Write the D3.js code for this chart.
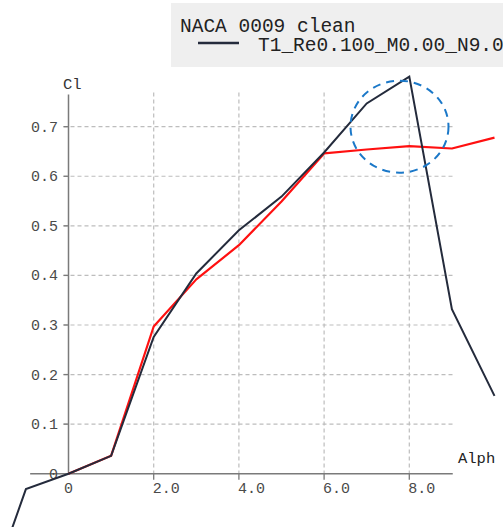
<!DOCTYPE html>
<html>
<head>
<meta charset="utf-8">
<script src="https://cdn.jsdelivr.net/npm/d3@7"></script>
<style>
  html, body { margin: 0; padding: 0; background: #fff; }
  svg { display: block; }
  text { font-family: "Liberation Mono", "DejaVu Sans Mono", monospace; }
</style>
</head>
<body>
<div id="chart"></div>
<script>
// polar data
const alphaBlack = [-2, -1, 0, 1, 2, 3, 4, 5, 6, 7, 8, 9, 10];
const clBlack = [-0.275, -0.031, 0, 0.036, 0.276, 0.404, 0.491, 0.559, 0.648, 0.747, 0.801, 0.332, 0.157];

const alphaRed = [0, 1, 2, 3, 4, 5, 6, 7, 8, 9, 10];
const clRed = [0, 0.036, 0.297, 0.392, 0.461, 0.549, 0.646, 0.654, 0.661, 0.656, 0.678];

const xTicks = [0, 2, 4, 6, 8];
const xTickLabels = ["0", "2.0", "4.0", "6.0", "8.0"];
const yTicks = [0, 0.1, 0.2, 0.3, 0.4, 0.5, 0.6, 0.7];
const yTickLabels = ["0", "0.1", "0.2", "0.3", "0.4", "0.5", "0.6", "0.7"];

const legendTitle = "NACA 0009 clean";
const legendSeries = "T1_Re0.100_M0.00_N9.0";

// highlighted region (alpha, cl)
const highlight = { alpha: 7.77, cl: 0.70 };

const width = 503, height = 527;

const x = d3.scaleLinear().domain([0, 8]).range([68.5, 409.3]);
const y = d3.scaleLinear().domain([0, 0.7]).range([473.7, 126.7]);

const svg = d3.select("#chart")
  .append("svg")
  .attr("width", width)
  .attr("height", height);

const axisColor = "#7a7a7a";
const gridColor = "#bdbdbd";

// grid
svg.append("g")
  .selectAll("line")
  .data(yTicks.filter(d => d > 0))
  .join("line")
  .attr("x1", x(0) - 5)
  .attr("x2", x(9.02))
  .attr("y1", d => y(d))
  .attr("y2", d => y(d))
  .attr("stroke", gridColor)
  .attr("stroke-width", 1.2)
  .attr("stroke-dasharray", "4,3");

svg.append("g")
  .selectAll("line")
  .data(xTicks.filter(d => d > 0))
  .join("line")
  .attr("x1", d => x(d))
  .attr("x2", d => x(d))
  .attr("y1", y(0.769))
  .attr("y2", y(0))
  .attr("stroke", gridColor)
  .attr("stroke-width", 1.2)
  .attr("stroke-dasharray", "4,3");

// axes
svg.append("line")
  .attr("x1", x(-0.9)).attr("x2", x(9.02))
  .attr("y1", y(0)).attr("y2", y(0))
  .attr("stroke", axisColor).attr("stroke-width", 1.5);

svg.append("line")
  .attr("x1", x(0)).attr("x2", x(0))
  .attr("y1", y(0.765)).attr("y2", y(0))
  .attr("stroke", axisColor).attr("stroke-width", 1.5);

// tick marks
svg.append("g")
  .selectAll("line")
  .data(xTicks.filter(d => d > 0))
  .join("line")
  .attr("x1", d => x(d)).attr("x2", d => x(d))
  .attr("y1", y(0)).attr("y2", y(0) + 6)
  .attr("stroke", axisColor).attr("stroke-width", 1.3);

svg.append("g")
  .selectAll("line")
  .data(yTicks.filter(d => d > 0))
  .join("line")
  .attr("x1", x(0) - 5).attr("x2", x(0))
  .attr("y1", d => y(d)).attr("y2", d => y(d))
  .attr("stroke", axisColor).attr("stroke-width", 1.3);

// tick labels
svg.append("g")
  .selectAll("text")
  .data(yTicks)
  .join("text")
  .attr("x", 58)
  .attr("y", d => y(d))
  .attr("dy", "0.33em")
  .attr("text-anchor", "end")
  .style("font-size", "15px")
  .style("fill", "#4a4a4a")
  .text((d, i) => yTickLabels[i]);

svg.append("g")
  .selectAll("text")
  .data(xTicks)
  .join("text")
  .attr("x", d => d === 0 ? x(d) : x(d) - 1)
  .attr("y", y(0) + 19)
  .attr("text-anchor", d => d === 0 ? "middle" : "start")
  .style("font-size", "15px")
  .style("fill", "#4a4a4a")
  .text((d, i) => xTickLabels[i]);

// axis titles
svg.append("text")
  .attr("x", 63).attr("y", 89)
  .style("font-size", "15.5px")
  .style("fill", "#333")
  .text("Cl");

svg.append("text")
  .attr("x", 458).attr("y", 463)
  .style("font-size", "15.5px")
  .style("fill", "#222")
  .text("Alph");

// curves
const line = d3.line().x(d => x(d[0])).y(d => y(d[1]));

svg.append("path")
  .datum(alphaRed.map((a, i) => [a, clRed[i]]))
  .attr("d", line)
  .attr("fill", "none")
  .attr("stroke", "#ff1010")
  .attr("stroke-width", 2.2)
  .attr("stroke-linejoin", "round");

svg.append("path")
  .datum(alphaBlack.map((a, i) => [a, clBlack[i]]))
  .attr("d", line)
  .attr("fill", "none")
  .attr("stroke", "#242b3c")
  .attr("stroke-width", 2)
  .attr("stroke-linejoin", "miter");

// dashed highlight circle
svg.append("ellipse")
  .attr("cx", x(highlight.alpha))
  .attr("cy", y(highlight.cl))
  .attr("rx", 49)
  .attr("ry", 46)
  .attr("fill", "none")
  .attr("stroke", "#1b78c8")
  .attr("stroke-width", 2)
  .attr("stroke-dasharray", "8,6");

// legend
const legend = svg.append("g");
legend.append("rect")
  .attr("x", 171).attr("y", 3)
  .attr("width", 340).attr("height", 64)
  .attr("fill", "#efefef");

legend.append("text")
  .attr("x", 180).attr("y", 32)
  .style("font-size", "19.5px")
  .style("fill", "#222")
  .text(legendTitle);

legend.append("line")
  .attr("x1", 198).attr("x2", 239)
  .attr("y1", 43).attr("y2", 43)
  .attr("stroke", "#242b3c")
  .attr("stroke-width", 2.5);

legend.append("text")
  .attr("x", 258).attr("y", 51)
  .style("font-size", "19.5px")
  .style("fill", "#222")
  .text(legendSeries);
</script>
</body>
</html>
